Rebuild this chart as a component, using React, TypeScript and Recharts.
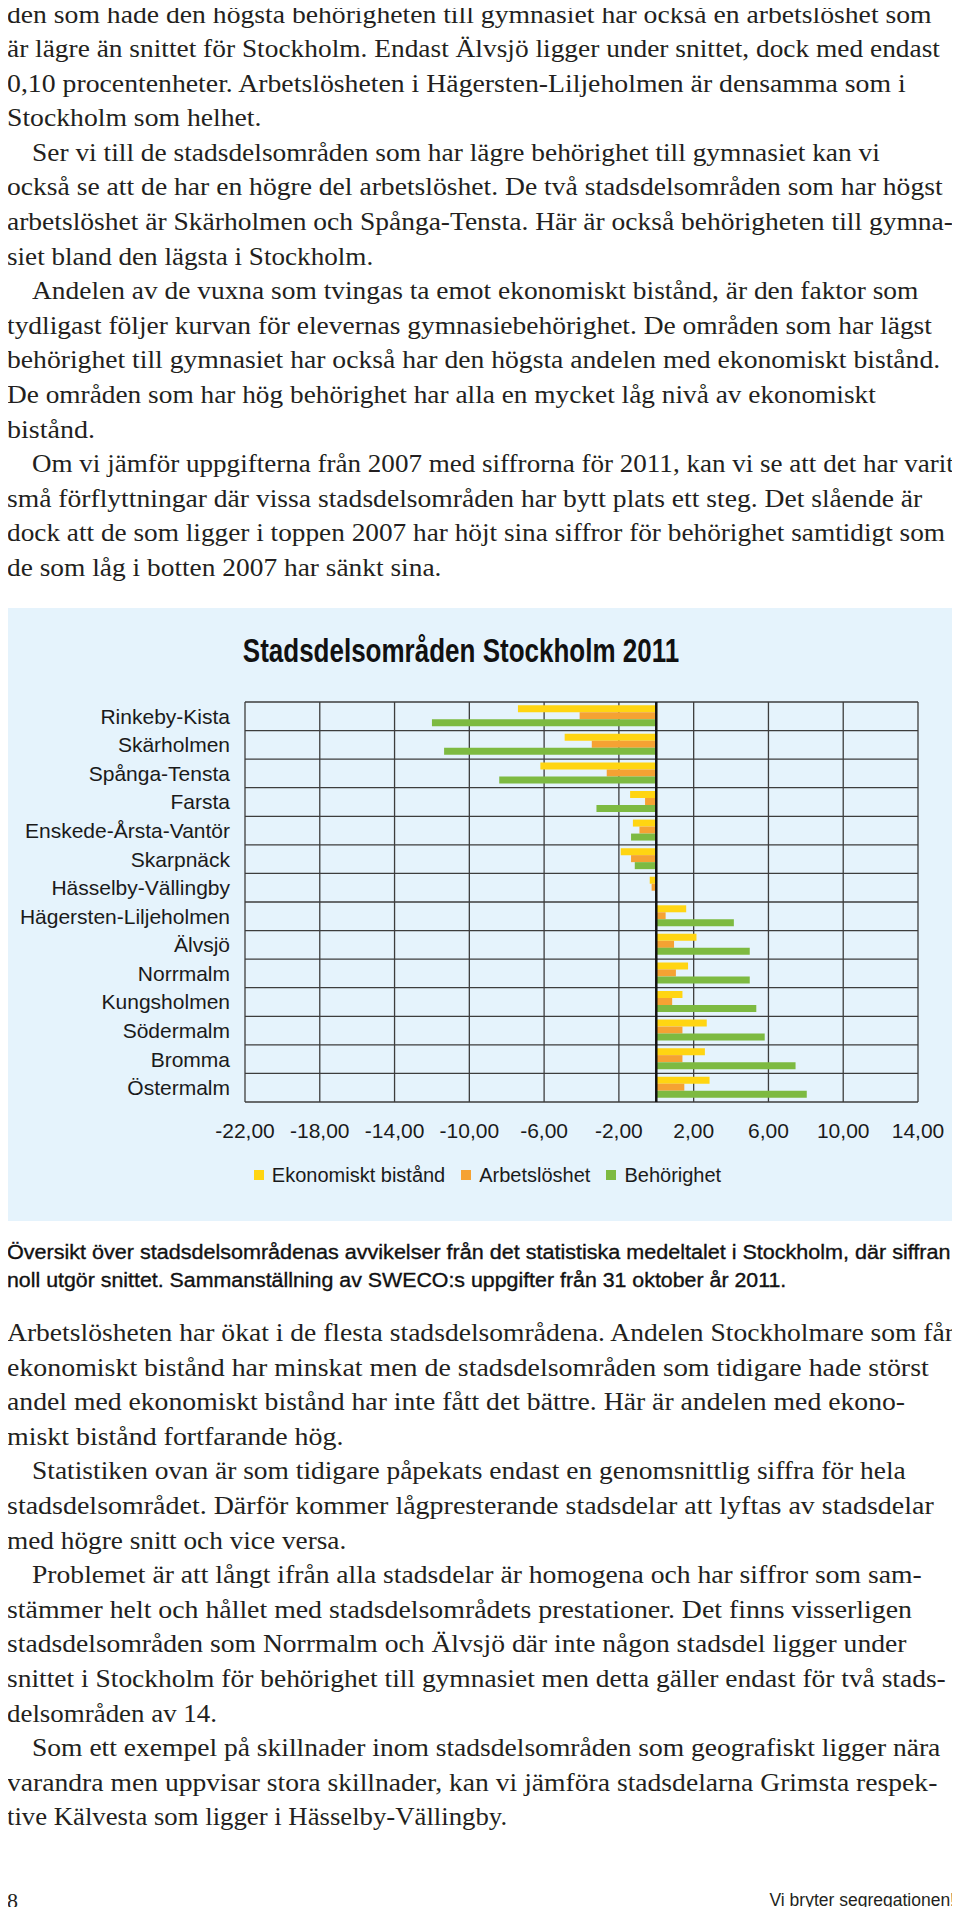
import React, { useLayoutEffect, useRef, useState } from 'react';
import { Bar, BarChart, CartesianGrid, Legend, ReferenceLine, XAxis, YAxis } from 'recharts';

// stadsdelsområden, uppifrån och ned
const districts = [
  'Rinkeby-Kista',
  'Skärholmen',
  'Spånga-Tensta',
  'Farsta',
  'Enskede-Årsta-Vantör',
  'Skarpnäck',
  'Hässelby-Vällingby',
  'Hägersten-Liljeholmen',
  'Älvsjö',
  'Norrmalm',
  'Kungsholmen',
  'Södermalm',
  'Bromma',
  'Östermalm',
];

// avvikelse från snittet i Stockholm (procentenheter)
const ekonomisktBistand = [-7.4, -4.9, -6.2, -1.4, -1.25, -1.9, -0.35, 1.6, 2.15, 1.7, 1.4, 2.7, 2.6, 2.85];
const arbetsloshet = [-4.1, -3.45, -2.65, -0.6, -0.9, -1.35, -0.25, 0.5, 0.95, 1.05, 0.85, 1.4, 1.4, 1.5];
const behorighet = [-12.0, -11.35, -8.4, -3.2, -1.35, -1.15, -0.05, 4.15, 5.0, 5.0, 5.35, 5.8, 7.45, 8.05];

const xTicks = [-22, -18, -14, -10, -6, -2, 2, 6, 10, 14];

const series = [
  { key: 'ekonomiskt', name: 'Ekonomiskt bistånd', color: '#FFD512' },
  { key: 'arbetsloshet', name: 'Arbetslöshet', color: '#F5A233' },
  { key: 'behorighet', name: 'Behörighet', color: '#7DBA41' },
];

const data = districts.map((name, i) => ({
  name,
  ekonomiskt: ekonomisktBistand[i],
  arbetsloshet: arbetsloshet[i],
  behorighet: behorighet[i],
}));

type Line = { t: string; end: number; indent?: boolean };

// end = radens högra kant på sidan (px)
const textAbove: Line[] = [
  { t: 'den som hade den högsta behörigheten till gymnasiet har också en arbetslöshet som', end: 932 },
  { t: 'är lägre än snittet för Stockholm. Endast Älvsjö ligger under snittet, dock med endast', end: 940 },
  { t: '0,10 procentenheter. Arbetslösheten i Hägersten-Liljeholmen är densamma som i', end: 906 },
  { t: 'Stockholm som helhet.', end: 261 },
  { t: 'Ser vi till de stadsdelsområden som har lägre behörighet till gymnasiet kan vi', end: 880, indent: true },
  { t: 'också se att de har en högre del arbetslöshet. De två stadsdelsområden som har högst', end: 943 },
  { t: 'arbetslöshet är Skärholmen och Spånga-Tensta. Här är också behörigheten till gymna-', end: 953 },
  { t: 'siet bland den lägsta i Stockholm.', end: 373 },
  { t: 'Andelen av de vuxna som tvingas ta emot ekonomiskt bistånd, är den faktor som', end: 918, indent: true },
  { t: 'tydligast följer kurvan för elevernas gymnasiebehörighet. De områden som har lägst', end: 932 },
  { t: 'behörighet till gymnasiet har också har den högsta andelen med ekonomiskt bistånd.', end: 940 },
  { t: 'De områden som har hög behörighet har alla en mycket låg nivå av ekonomiskt', end: 876 },
  { t: 'bistånd.', end: 95 },
  { t: 'Om vi jämför uppgifterna från 2007 med siffrorna för 2011, kan vi se att det har varit', end: 954, indent: true },
  { t: 'små förflyttningar där vissa stadsdelsområden har bytt plats ett steg. Det slående är', end: 922 },
  { t: 'dock att de som ligger i toppen 2007 har höjt sina siffror för behörighet samtidigt som', end: 945 },
  { t: 'de som låg i botten 2007 har sänkt sina.', end: 441 },
];

const textBelow: Line[] = [
  { t: 'Arbetslösheten har ökat i de flesta stadsdelsområdena. Andelen Stockholmare som får', end: 954 },
  { t: 'ekonomiskt bistånd har minskat men de stadsdelsområden som tidigare hade störst', end: 929 },
  { t: 'andel med ekonomiskt bistånd har inte fått det bättre. Här är andelen med ekono-', end: 905 },
  { t: 'miskt bistånd fortfarande hög.', end: 343 },
  { t: 'Statistiken ovan är som tidigare påpekats endast en genomsnittlig siffra för hela', end: 906, indent: true },
  { t: 'stadsdelsområdet. Därför kommer lågpresterande stadsdelar att lyftas av stadsdelar', end: 934 },
  { t: 'med högre snitt och vice versa.', end: 346 },
  { t: 'Problemet är att långt ifrån alla stadsdelar är homogena och har siffror som sam-', end: 922, indent: true },
  { t: 'stämmer helt och hållet med stadsdelsområdets prestationer. Det finns visserligen', end: 912 },
  { t: 'stadsdelsområden som Norrmalm och Älvsjö där inte någon stadsdel ligger under', end: 906 },
  { t: 'snittet i Stockholm för behörighet till gymnasiet men detta gäller endast för två stads-', end: 946 },
  { t: 'delsområden av 14.', end: 217 },
  { t: 'Som ett exempel på skillnader inom stadsdelsområden som geografiskt ligger nära', end: 940, indent: true },
  { t: 'varandra men uppvisar stora skillnader, kan vi jämföra stadsdelarna Grimsta respek-', end: 937 },
  { t: 'tive Kälvesta som ligger i Hässelby-Vällingby.', end: 507 },
];

const captionLines: Line[] = [
  { t: 'Översikt över stadsdelsområdenas avvikelser från det statistiska medeltalet i Stockholm, där siffran', end: 950 },
  { t: 'noll utgör snittet. Sammanställning av SWECO:s uppgifter från 31 oktober år 2011.', end: 786 },
];

const serif = '"Liberation Serif", "DejaVu Serif", serif';
const sans = '"Liberation Sans", Arial, sans-serif';
const LEFT = 7;
const INDENT = 25;

// sträcker/krymper en rad så att den slutar där den gör i förlagan
const FitLine = ({ text, width }: { text: string; width: number }) => {
  const ref = useRef<HTMLSpanElement>(null);
  const [sx, setSx] = useState(1);
  useLayoutEffect(() => {
    const el = ref.current;
    if (el && el.offsetWidth > 0) setSx(width / el.offsetWidth);
  }, [text, width]);
  return (
    <span
      ref={ref}
      style={{
        display: 'inline-block',
        whiteSpace: 'nowrap',
        lineHeight: 'normal',
        transform: `scaleX(${sx})`,
        transformOrigin: '0 0',
      }}
    >
      {text}
    </span>
  );
};

const TextBlock = ({ lines, top, style }: { lines: Line[]; top: number; style: React.CSSProperties }) => (
  <div style={{ position: 'absolute', left: LEFT, top, width: 960, ...style }}>
    {lines.map((l, i) => (
      <div key={i} style={{ whiteSpace: 'nowrap', paddingLeft: l.indent ? INDENT : 0 }}>
        <FitLine text={l.t} width={l.end - LEFT - (l.indent ? INDENT : 0)} />
      </div>
    ))}
  </div>
);

const bodyStyle: React.CSSProperties = {
  fontFamily: serif,
  fontSize: 25.5,
  lineHeight: '34.6px',
  color: '#231f20',
};

const renderLegend = () => (
  <div
    style={{
      display: 'flex',
      justifyContent: 'center',
      alignItems: 'center',
      gap: 16,
      height: 24,
      paddingLeft: 52,
      fontFamily: sans,
      fontSize: 20,
      color: '#1a1a1a',
    }}
  >
    {series.map((s) => (
      <span key={s.key} style={{ display: 'inline-flex', alignItems: 'center' }}>
        <span style={{ width: 10, height: 10, background: s.color, marginRight: 8 }} />
        {s.name}
      </span>
    ))}
  </div>
);

const fmt = (v: number) => v.toFixed(2).replace('.', ',');

export default function App() {
  return (
    <div style={{ position: 'relative', width: 960, height: 1915, margin: -8, overflow: 'hidden', background: '#fff' }}>
      <TextBlock lines={textAbove} top={-2.5} style={bodyStyle} />

      <div style={{ position: 'absolute', left: 5, top: 608, width: 950, height: 613, background: '#E5F3FC' }}>
        <div
          style={{
            position: 'absolute',
            left: 0,
            top: 27,
            width: 912,
            textAlign: 'center',
            fontFamily: sans,
            fontWeight: 'bold',
            fontSize: 26,
            lineHeight: '30px',
            color: '#111',
            transform: 'scaleY(1.3)',
          }}
        >
          Stadsdelsområden Stockholm 2011
        </div>
        <BarChart
          width={950}
          height={613}
          data={data}
          layout="vertical"
          margin={{ top: 94, right: 37, left: 0, bottom: 34 }}
          barCategoryGap="11.5%"
          barGap={0}
          style={{ fontFamily: sans }}
        >
          <CartesianGrid
            stroke="#3d3d3d"
            strokeWidth={1.3}
            horizontalCoordinatesGenerator={({ offset }: any) =>
              districts
                .map((_, i) => offset.top + (i * offset.height) / districts.length)
                .concat(offset.top + offset.height)
            }
          />
          <XAxis
            type="number"
            domain={[-22, 14]}
            ticks={xTicks}
            interval={0}
            tickFormatter={fmt}
            axisLine={false}
            tickLine={false}
            tickSize={0}
            tickMargin={21}
            height={61}
            tick={{ fontSize: 21, fill: '#1a1a1a', fontFamily: sans }}
          />
          <YAxis
            type="category"
            dataKey="name"
            width={240}
            interval={0}
            axisLine={false}
            tickLine={false}
            tickSize={0}
            tickMargin={15}
            tick={{ fontSize: 21, fill: '#1a1a1a', fontFamily: sans }}
          />
          {series.map((s) => (
            <Bar key={s.key} dataKey={s.key} name={s.name} fill={s.color} isAnimationActive={false} />
          ))}
          <ReferenceLine x={0} stroke="#111" strokeWidth={2.5} />
          <Legend verticalAlign="bottom" content={renderLegend} />
        </BarChart>
      </div>

      <TextBlock
        lines={captionLines}
        top={1238}
        style={{
          fontFamily: sans,
          fontSize: 20.5,
          lineHeight: '28px',
          color: '#111',
          WebkitTextStroke: '0.35px #111',
        }}
      />

      <TextBlock lines={textBelow} top={1316} style={bodyStyle} />

      <div style={{ position: 'absolute', left: 7, top: 1889, fontFamily: serif, fontSize: 22, lineHeight: '24px', color: '#231f20' }}>
        8
      </div>
      <div
        style={{
          position: 'absolute',
          right: 5,
          top: 1888,
          fontFamily: sans,
          fontSize: 17.5,
          lineHeight: '24px',
          color: '#231f20',
        }}
      >
        Vi bryter segregationen!
      </div>
    </div>
  );
}
